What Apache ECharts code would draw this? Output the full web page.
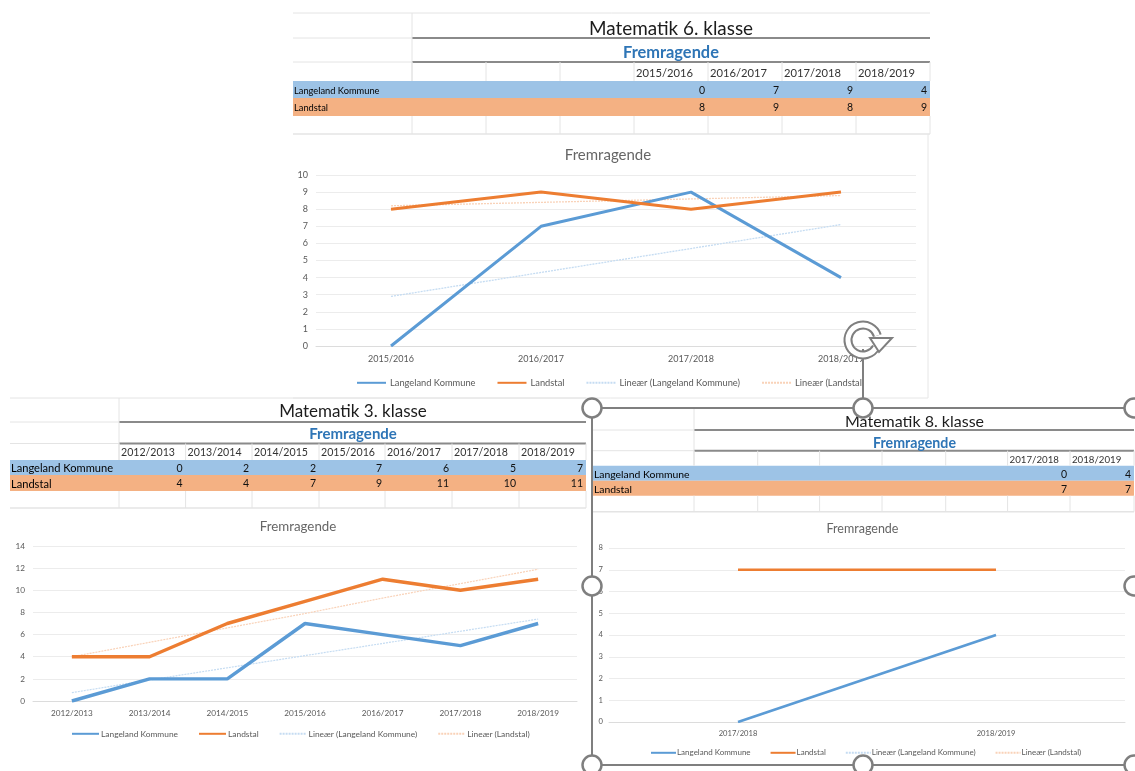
<!DOCTYPE html>
<html><head><meta charset="utf-8">
<style>html,body{margin:0;padding:0;background:#fff}#c{width:1135px;height:771px;filter:blur(0.75px)}</style>
<script src="https://cdn.jsdelivr.net/npm/echarts@6/dist/echarts.min.js"></script>
</head><body><div id="c"></div>
<script>
// ---- data ----
const years6 = ['2015/2016','2016/2017','2017/2018','2018/2019'];
const kommune6 = [0,7,9,4];
const landstal6 = [8,9,8,9];
const trendKommune6 = [2.9,4.3,5.7,7.1];
const trendLandstal6 = [8.2,8.4,8.6,8.8];

const years3 = ['2012/2013','2013/2014','2014/2015','2015/2016','2016/2017','2017/2018','2018/2019'];
const kommune3 = [0,2,2,7,6,5,7];
const landstal3 = [4,4,7,9,11,10,11];
const trendKommune3 = [0.75,1.9,3.0,4.1,5.2,6.3,7.4];
const trendLandstal3 = [4,5.3,6.6,7.9,9.3,10.6,11.9];

const years8 = ['2017/2018','2018/2019'];
const kommune8 = [0,4];
const landstal8 = [7,7];
const trendKommune8 = [0,4];
const trendLandstal8 = [7,7];

const NAME_K='Langeland Kommune', NAME_L='Landstal', NAME_TK='Lineær (Langeland Kommune)', NAME_TL='Lineær (Landstal)';
const FONT='Lato, "Open Sans", sans-serif';
const BLUE='#5B9BD5', ORANGE='#ED7D31', LBLUE='#C5DCF2', LORANGE='#F9D2B8';

// ---- panels layout ----
const panels=[
 {title:'Matematik 6. klasse',years:years6,k:kommune6,l:landstal6,tk:trendKommune6,tl:trendLandstal6,
  left:293,right:930,cols:[412,486,560,634,708,782,856,930],rows:[13,38,62,81,98,116,134],cx:671,
  titleY:28,subY:52,headY:72,fs:{title:18.9,sub:16.4,name:9.3,head:11.2,chart:15,tick:9,legend:9.3},
  grid:{left:316,width:600,top:175,height:171},max:10,interval:1,chartTitle:[608,154],xMargin:9,yMargin:8,
  legend:{left:356,top:378,itemGap:21,itemWidth:29,pad:-1},lw:3,tw:1.3,frame:{right:928,bottom:398}},
 {title:'Matematik 3. klasse',years:years3,k:kommune3,l:landstal3,tk:trendKommune3,tl:trendLandstal3,
  left:10,right:586,cols:[119,185.6,252,319,385,452,519,586],rows:[398,422,443.5,460,475,491,508],cx:353,
  titleY:411,subY:433,headY:452,fs:{title:17,sub:15,name:11.1,head:10.6,chart:13.3,tick:8.2,legend:8.4},
  grid:{left:33,width:544,top:546,height:155},max:14,interval:2,chartTitle:[298,526],xMargin:8,yMargin:8,
  legend:{left:71,top:729,itemGap:20,itemWidth:27,pad:-3},lw:3.4,tw:1.2},
 {title:'Matematik 8. klasse',years:years8,k:kommune8,l:landstal8,tk:trendKommune8,tl:trendLandstal8,
  left:593,right:1134,cols:[694,757.7,819.6,882,945.7,1007.6,1070,1134],rows:[408,430,450.7,465.7,480.7,495.7,511.7],cx:914.5,
  titleY:421,subY:442,headY:459,fs:{title:16,sub:14.2,name:10.4,head:9.7,chart:12.5,tick:7.6,legend:8},
  grid:{left:609,width:516,top:548,height:174},max:8,interval:1,chartTitle:[862.5,528],xMargin:8,yMargin:6,
  legend:{left:650,top:748,itemGap:19,itemWidth:25,pad:-4},lw:2.6,tw:1}
];

const g=[];
function line(x1,y1,x2,y2,c,w,z){g.push({type:'line',silent:true,z:z||1,shape:{x1,y1,x2,y2},style:{stroke:c,lineWidth:w||1}});}
function rect(x,y,w,h,c){g.push({type:'rect',silent:true,z:1,shape:{x,y,width:w,height:h},style:{fill:c}});}
function text(t,x,y,size,c,align,weight){g.push({type:'text',silent:true,z:3,x,y:y+1,style:{text:t,fontSize:size,fill:c,align:align||'center',verticalAlign:'middle',fontFamily:FONT,fontWeight:weight||'normal'}});}

panels.forEach(p=>{
  const r=p.rows,c=p.cols,LG='#e4e4e4',DK='#8a8a8a',f=p.fs;
  rect(p.left,r[3],p.right-p.left,r[4]-r[3],'#9DC3E6');
  rect(p.left,r[4],p.right-p.left,r[5]-r[4],'#F4B183');
  line(p.left,r[0],p.right,r[0],LG);
  line(p.left,r[1],c[0],r[1],LG); line(p.left,r[2],c[0],r[2],LG);
  line(c[0],r[1],p.right,r[1],DK,2); line(c[0],r[2],p.right,r[2],DK,2);
  line(p.left,r[6],p.right,r[6],LG,1.5);
  line(c[0],r[0],c[0],r[3],LG);
  c.forEach(x=>{line(x,r[2],x,r[3],LG);line(x,r[5],x,r[6],LG);});
  text(p.title,p.cx,p.titleY,f.title,'#1c1c1c');
  text('Fremragende',p.cx,p.subY,f.sub,'#2E75B6','center','bold');
  const start=7-p.years.length;
  p.years.forEach((y,i)=>{
    text(y,c[start+i]+2,p.headY,f.head,'#333','left');
    text(String(p.k[i]),c[start+i+1]-3,(r[3]+r[4])/2,10.5,'#111','right');
    text(String(p.l[i]),c[start+i+1]-3,(r[4]+r[5])/2,10.5,'#111','right');
  });
  text(NAME_K,p.left+1,(r[3]+r[4])/2,f.name,'#000','left');
  text(NAME_L,p.left+1,(r[4]+r[5])/2,f.name,'#000','left');
  text('Fremragende',p.chartTitle[0],p.chartTitle[1],f.chart,'#666');
  if(p.frame){
    line(p.frame.right,r[6],p.frame.right,p.frame.bottom,'#e6e6e6');
    line(p.left,p.frame.bottom,p.frame.right,p.frame.bottom,'#e6e6e6');
  }
});

// selection box and handles of the pasted picture
const H='#7f7f7f',Z=50;
[[592,408,1134,408],[592,765,1134,765],[592,408,592,765]].forEach(a=>line(a[0],a[1],a[2],a[3],H,2,Z));
line(863,349,863,400,H,2,Z);
[[592,408],[863,408],[1134,408],[592,586],[1134,586],[592,765],[863,765],[1134,765]].forEach(a=>{
  g.push({type:'circle',silent:true,z:Z+1,shape:{cx:a[0],cy:a[1],r:9.5},style:{fill:'#fff',stroke:H,lineWidth:2.5}});
});
g.push({type:'arc',silent:true,z:Z,shape:{cx:863,cy:340,r:15,startAngle:0.5,endAngle:-0.3,clockwise:true},style:{stroke:H,lineWidth:9,fill:'none'}});
g.push({type:'arc',silent:true,z:Z+1,shape:{cx:863,cy:340,r:15,startAngle:0.5,endAngle:-0.3,clockwise:true},style:{stroke:'#fff',lineWidth:5,fill:'none'}});
g.push({type:'polygon',silent:true,z:Z+2,shape:{points:[[870,338],[892,338],[879,352]]},style:{fill:'#fff',stroke:H,lineWidth:2}});

// ---- charts ----
const grids=[],xAxes=[],yAxes=[],series=[],legends=[];
panels.forEach((p,i)=>{
  grids.push(Object.assign({containLabel:false},p.grid));
  xAxes.push({type:'category',gridIndex:i,data:p.years,boundaryGap:true,
    axisTick:{show:false},axisLine:{lineStyle:{color:'#dcdcdc'}},
    axisLabel:{fontSize:p.fs.tick,color:'#595959',fontFamily:FONT,margin:p.xMargin,interval:0}});
  yAxes.push({type:'value',gridIndex:i,min:0,max:p.max,interval:p.interval,
    axisLine:{show:false},axisTick:{show:false},
    splitLine:{lineStyle:{color:'#ececec'}},
    axisLabel:{fontSize:p.fs.tick,color:'#595959',fontFamily:FONT,margin:p.yMargin}});
  const base={type:'line',xAxisIndex:i,yAxisIndex:i,symbol:'none',smooth:false,animation:false,silent:true};
  series.push(Object.assign({},base,{name:NAME_TK,data:p.tk,z:2,lineStyle:{color:LBLUE,width:p.tw,type:[2,1]},itemStyle:{color:LBLUE}}));
  series.push(Object.assign({},base,{name:NAME_TL,data:p.tl,z:2,lineStyle:{color:LORANGE,width:p.tw,type:[2,1]},itemStyle:{color:LORANGE}}));
  series.push(Object.assign({},base,{name:NAME_K,data:p.k,z:3,lineStyle:{color:BLUE,width:p.lw},itemStyle:{color:BLUE}}));
  series.push(Object.assign({},base,{name:NAME_L,data:p.l,z:3,lineStyle:{color:ORANGE,width:p.lw},itemStyle:{color:ORANGE}}));
  legends.push({left:p.legend.left,top:p.legend.top,itemGap:p.legend.itemGap,itemWidth:p.legend.itemWidth,itemHeight:12,padding:0,
    selectedMode:false,data:[NAME_K,NAME_L,NAME_TK,NAME_TL],itemStyle:{opacity:0},
    textStyle:{fontSize:p.fs.legend,color:'#595959',fontFamily:FONT,padding:[0,0,0,p.legend.pad]}});
});

const chart=echarts.init(document.getElementById('c'),null,{renderer:'canvas'});
chart.setOption({backgroundColor:'#fff',animation:false,grid:grids,xAxis:xAxes,yAxis:yAxes,series,legend:legends,graphic:{elements:g}});
</script></body></html>
